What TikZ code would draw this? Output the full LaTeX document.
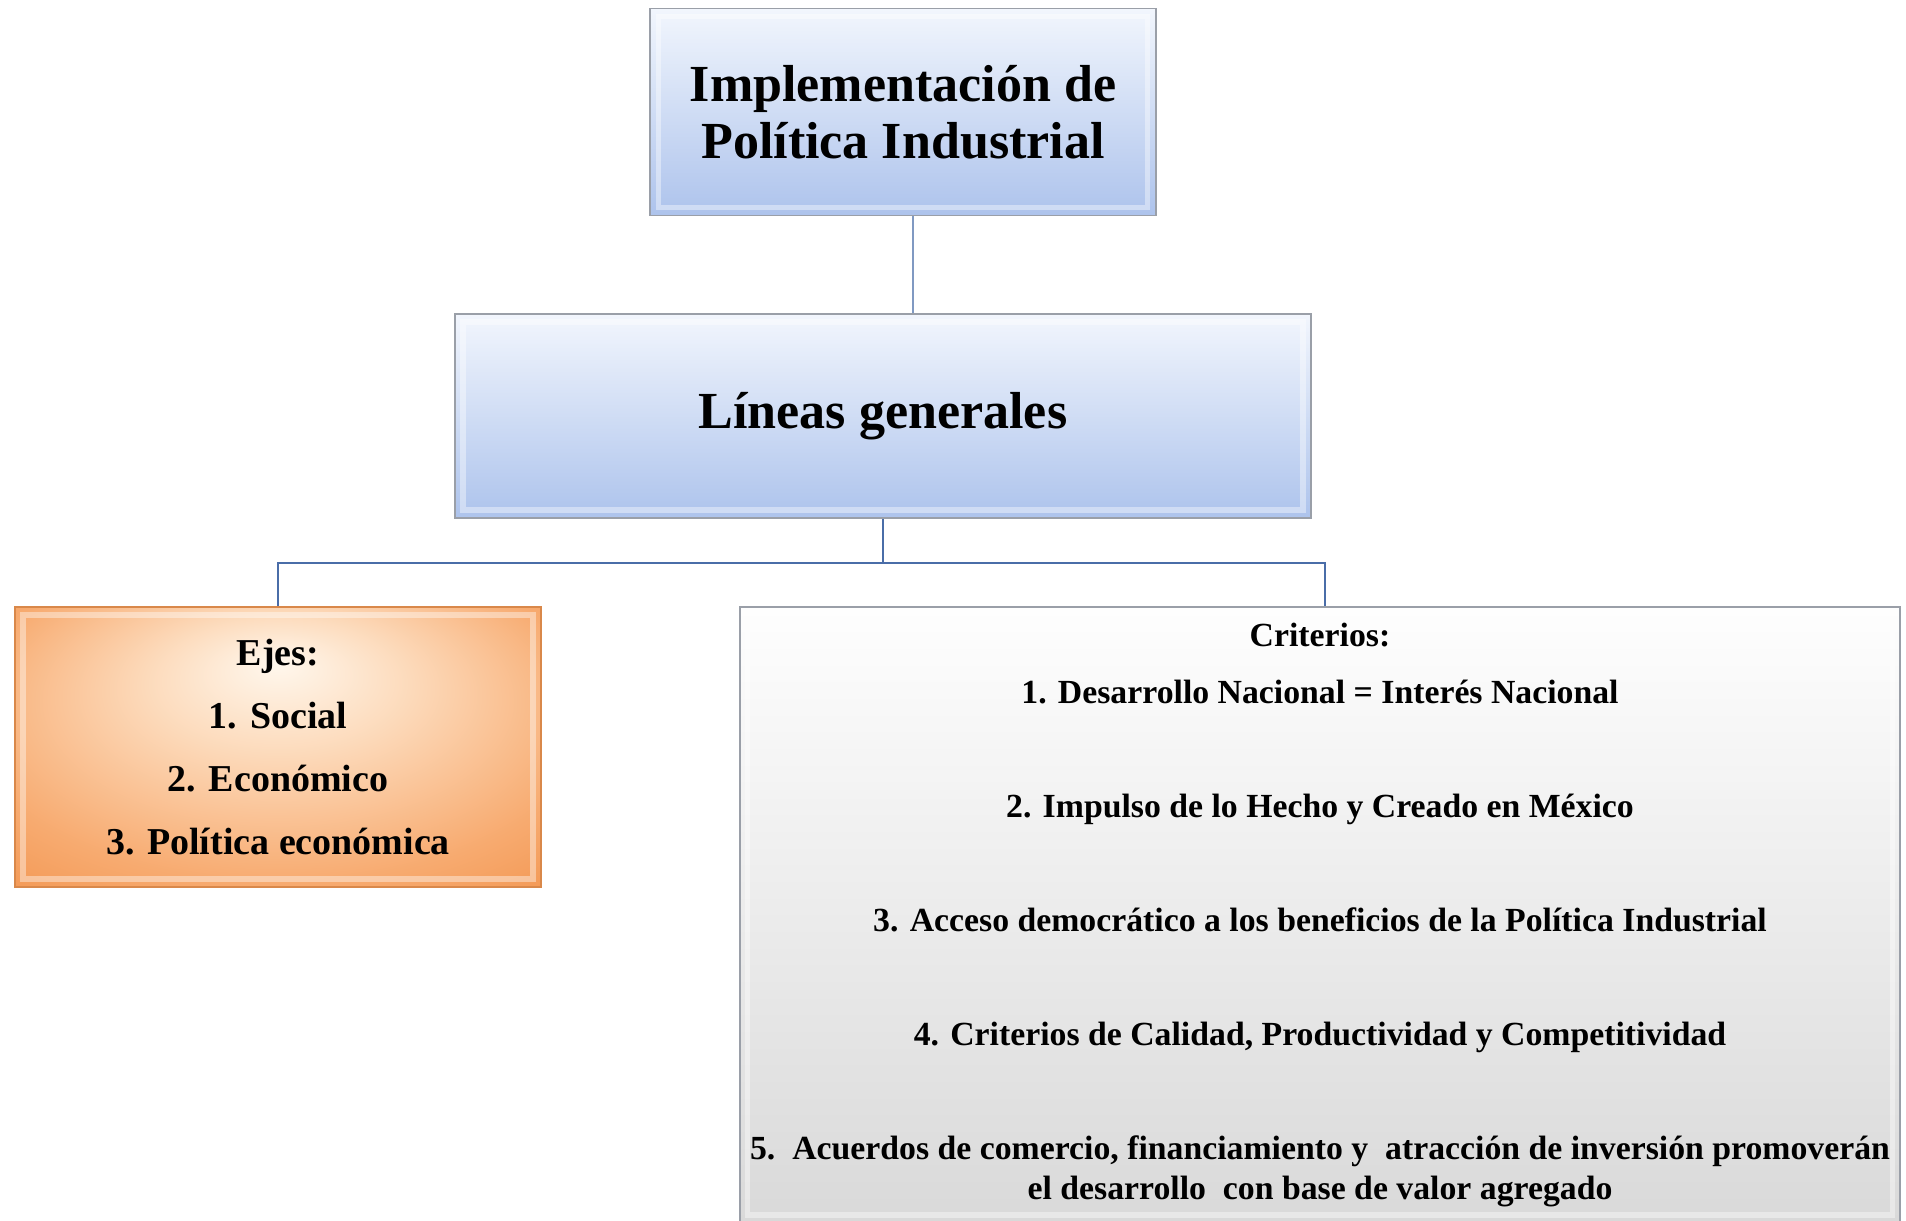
\documentclass[tikz,border=0pt]{standalone}
\usepackage{fontspec}
\setmainfont{Liberation Serif}
\usetikzlibrary{positioning}

\definecolor{azulclaro}{HTML}{F2F6FD}
\definecolor{azul}{HTML}{ADC3EC}
\definecolor{grisclaro}{HTML}{FEFEFE}
\definecolor{gris}{HTML}{D9D9D9}
\definecolor{conector}{HTML}{4A6DA8}
\definecolor{borde}{HTML}{9A9FA8}
\definecolor{naranjaborde}{HTML}{D9884A}

\pgfdeclareradialshading{brillo}{\pgfpoint{0bp}{15bp}}{%
  rgb(0bp)=(1,0.97,0.93);
  rgb(12bp)=(0.99,0.86,0.74);
  rgb(30bp)=(0.97,0.67,0.44);
  rgb(45bp)=(0.94,0.55,0.26);
  rgb(50bp)=(0.93,0.52,0.22)}

\tikzset{
  caja/.style={rectangle, draw=borde, line width=0.5pt, inner sep=0pt, align=center,
    font=\bfseries,
    path picture={\draw[white, opacity=0.4, line width=1.6pt]
      ([xshift=0.08cm,yshift=0.08cm]path picture bounding box.south west) rectangle
      ([xshift=-0.08cm,yshift=-0.08cm]path picture bounding box.north east);}},
  cajaazul/.style={caja, top color=azulclaro, bottom color=azul},
  cajanaranja/.style={caja, draw=naranjaborde, shading=brillo},
  cajagris/.style={caja, top color=grisclaro, bottom color=gris},
  linea/.style={draw=conector, line width=0.7pt}
}

\begin{document}
\begin{tikzpicture}[x=0.01cm,y=-0.01cm]
  \useasboundingbox[fill=white] (0,0) rectangle (1906,1220);
  % cajas
  \node[cajaazul, minimum width=5.05cm, minimum height=2.07cm,
    font=\bfseries\fontsize{14.8}{16.2}\selectfont] (implementacion) at (903,112)
    {Implementación de\\Política Industrial};
  \node[cajaazul, minimum width=8.55cm, minimum height=2.04cm,
    font=\bfseries\fontsize{14.8}{16.2}\selectfont] (lineas) at (883,416)
    {Líneas generales};
  \node[cajanaranja, minimum width=5.26cm, minimum height=2.80cm,
    font=\bfseries\fontsize{10.8}{17.9}\selectfont] (ejes) at (278,747)
    {Ejes:\\1. Social\\2. Económico\\3. Política económica};
  \node[cajagris, minimum width=11.60cm, minimum height=6.16cm,
    font=\bfseries\fontsize{9.6}{11.4}\selectfont] (criterios) at (1320,915)
    {Criterios:\\[4.8pt]
     1. Desarrollo Nacional = Interés Nacional\\[21pt]
     2. Impulso de lo Hecho y Creado en México\\[21pt]
     3. Acceso democrático a los beneficios de la Política Industrial\\[21pt]
     4. Criterios de Calidad, Productividad y Competitividad\\[21pt]
     5.\ \ Acuerdos de comercio, financiamiento y\ \ atracción de inversión promoverán\\
     el desarrollo\ \ con base de valor agregado};
  % conectores
  \coordinate (codo) at (883,563);
  \draw[linea, draw=conector!70] ([xshift=0.1cm]implementacion.south)
    -- ([xshift=0.1cm]implementacion.south |- lineas.north);
  \draw[linea] (lineas.south) -- (codo) -| (ejes.north);
  \draw[linea] (codo) -| ([xshift=0.05cm]criterios.north);
\end{tikzpicture}
\end{document}
